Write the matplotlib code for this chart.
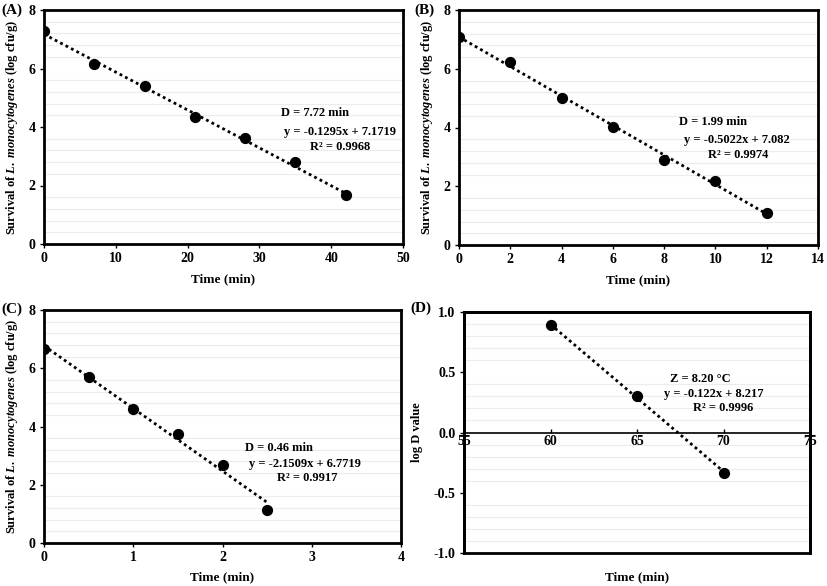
"""
Thermal inactivation of L. monocytogenes: survival curves (A-C) and thermal death time curve (D)
"""

import numpy as np
import matplotlib
matplotlib.use('Agg')
import matplotlib.pyplot as plt
from matplotlib.patches import Rectangle
from matplotlib.ticker import MultipleLocator, FormatStrFormatter


# ---- Data ----

# (A) 60 °C
time_a = [0, 7, 14, 21, 28, 35, 42]
surv_a = [7.29, 6.16, 5.41, 4.33, 3.64, 2.80, 1.67]
fit_a = (-0.1295, 7.1719)

# (B) 65 °C
time_b = [0, 2, 4, 6, 8, 10, 12]
surv_b = [7.09, 6.22, 5.02, 4.03, 2.90, 2.19, 1.10]
fit_b = (-0.5022, 7.082)

# (C) 70 °C
time_c = [0, 0.5, 1.0, 1.5, 2.0, 2.5]
surv_c = [6.67, 5.71, 4.60, 3.73, 2.69, 1.12]
fit_c = (-2.1509, 6.7719)

# (D) log D vs temperature
temp_d = [60, 65, 70]
logd_d = [0.89, 0.30, -0.335]
fit_d = (-0.122, 8.217)

labels_a = ['D = 7.72 min', 'y = -0.1295x + 7.1719', 'R² = 0.9968']
labels_b = ['D = 1.99 min', 'y = -0.5022x + 7.082', 'R² = 0.9974']
labels_c = ['D = 0.46 min', 'y = -2.1509x + 6.7719', 'R² = 0.9917']
labels_d = ['Z = 8.20 °C', 'y = -0.122x + 8.217', 'R² = 0.9996']


# ---- Style ----

plt.rcParams['font.family'] = ['Liberation Serif', 'DejaVu Serif']
plt.rcParams['font.weight'] = 'bold'
plt.rcParams['font.size'] = 9
plt.rcParams['mathtext.fontset'] = 'custom'
plt.rcParams['mathtext.rm'] = 'Liberation Serif:bold'
plt.rcParams['mathtext.it'] = 'Liberation Serif:italic:bold'
plt.rcParams['mathtext.bf'] = 'Liberation Serif:bold'

ylab = r'Survival of $\mathit{L.\ monocytogenes}$ (log cfu/g)'
W, H = 827, 586


def style_axes(ax, xlim, xstep, ylim, ystep):
    ax.set_xlim(xlim)
    ax.set_ylim(ylim)
    ax.xaxis.set_major_locator(MultipleLocator(xstep))
    ax.yaxis.set_major_locator(MultipleLocator(ystep))
    ax.yaxis.set_minor_locator(MultipleLocator(ystep / 5))
    ax.grid(which='minor', axis='y', color='#ececec', linewidth=0.8)
    ax.set_axisbelow(True)
    for s in ax.spines.values():
        s.set_linewidth(2)
    ax.tick_params(which='major', direction='out', length=3, width=1, labelsize=10, pad=3)
    ax.tick_params(which='minor', length=0)


def add_fit(ax, x, y, fit, texts, dpos, epos, rpos):
    ax.scatter(x, y, s=50, color='black', zorder=3)
    xs = np.array([x[0], x[-1]])
    ax.plot(xs, fit[0] * xs + fit[1], color='black', linestyle=(0, (1, 1.2)),
            linewidth=2, zorder=2)
    ax.text(dpos[0], dpos[1], texts[0], ha='left', va='center', fontsize=9)
    ax.text(epos[0], epos[1], texts[1], ha='center', va='center', fontsize=9)
    ax.text(rpos[0], rpos[1], texts[2], ha='center', va='center', fontsize=9)


fig = plt.figure(figsize=(8.27, 5.86), dpi=100)

ax_a = fig.add_axes([44 / W, 1 - 244 / H, 359 / W, 234 / H])
ax_b = fig.add_axes([459 / W, 1 - 245 / H, 359 / W, 235 / H])
ax_c = fig.add_axes([44 / W, 1 - 543 / H, 357 / W, 233 / H])
ax_d = fig.add_axes([464 / W, 1 - 553 / H, 346 / W, 241 / H])

# panel letters
for lab, px, py in [('(A)', 1, 10), ('(B)', 414, 10), ('(C)', 1, 309), ('(D)', 410, 308)]:
    fig.text(px / W, 1 - py / H, lab, ha='left', va='center', fontsize=11, fontweight='bold')

# ---- Panel A ----
style_axes(ax_a, (0, 50), 10, (0, 8), 2)
add_fit(ax_a, time_a, surv_a, fit_a, labels_a, (33.0, 4.48), (41.2, 3.83), (41.2, 3.32))
ax_a.set_xlabel('Time (min)', fontsize=9.5, fontweight='bold', labelpad=6)
ax_a.set_ylabel(ylab, fontsize=9, fontweight='bold', labelpad=6)

# ---- Panel B ----
style_axes(ax_b, (0, 14), 2, (0, 8), 2)
add_fit(ax_b, time_b, surv_b, fit_b, labels_b, (8.58, 4.19), (10.84, 3.57), (10.88, 3.06))
ax_b.set_xlabel('Time (min)', fontsize=9.5, fontweight='bold', labelpad=6)
ax_b.set_ylabel(ylab, fontsize=9, fontweight='bold', labelpad=6)

# ---- Panel C ----
style_axes(ax_c, (0, 4), 1, (0, 8), 2)
add_fit(ax_c, time_c, surv_c, fit_c, labels_c, (2.25, 3.26), (2.92, 2.71), (2.95, 2.23))
ax_c.set_xlabel('Time (min)', fontsize=9.5, fontweight='bold', labelpad=5)
ax_c.set_ylabel(ylab, fontsize=9, fontweight='bold', labelpad=6)

# ---- Panel D ----
style_axes(ax_d, (55, 75), 5, (-1, 1), 0.5)
ax_d.yaxis.set_major_formatter(FormatStrFormatter('%.1f'))
# x axis crosses at zero, frame drawn separately
ax_d.spines['bottom'].set_position(('data', 0))
ax_d.spines['bottom'].set_linewidth(1.2)
ax_d.add_patch(Rectangle((0, 0), 1, 1, transform=ax_d.transAxes, fill=False,
                         linewidth=2, edgecolor='black', clip_on=False, zorder=4))
ax_d.tick_params(axis='x', direction='in', length=3, pad=2)
add_fit(ax_d, temp_d, logd_d, fit_d, labels_d, (66.9, 0.444), (69.45, 0.32), (69.97, 0.20))
ax_d.set_xlabel('Time (min)', fontsize=9.5, fontweight='bold', va='center')
ax_d.xaxis.set_label_coords(0.5, -0.1)
ax_d.set_ylabel('log D value', fontsize=9, fontweight='bold', labelpad=8)

plt.savefig('out.png', dpi=100)
